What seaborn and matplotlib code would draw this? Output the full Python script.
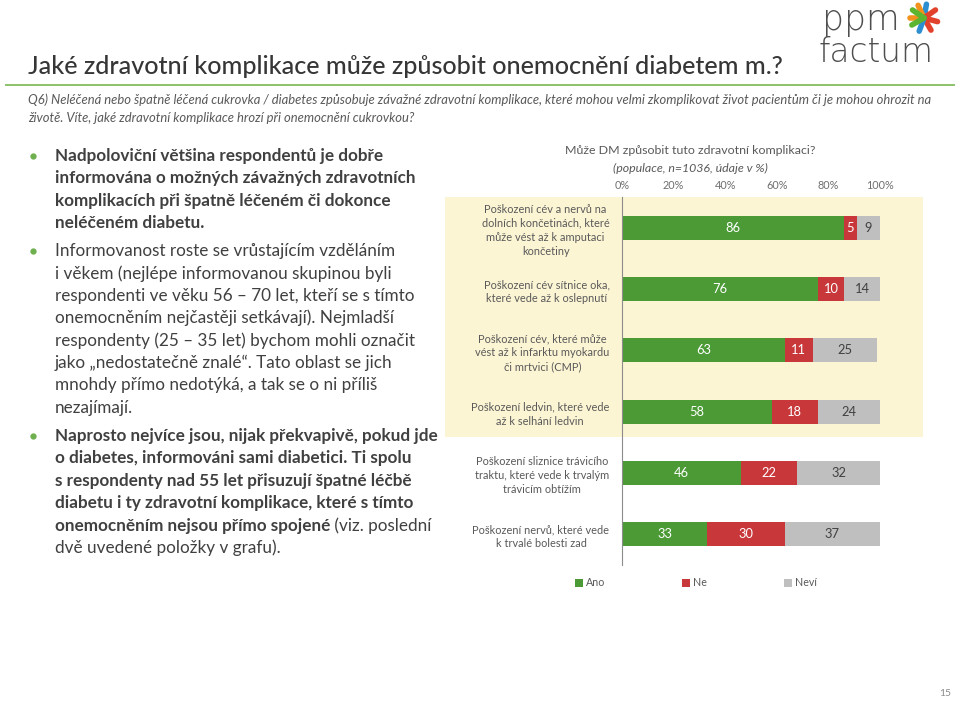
import matplotlib
matplotlib.use("Agg")
import matplotlib.pyplot as plt
from matplotlib.patches import Rectangle, Patch
import seaborn as sns
import numpy as np
import pandas as pd

# ---------------- data ----------------
categories = [
    "Poškození cév a nervů na\ndolních končetinách, které\nmůže vést až k amputaci\nkončetiny",
    "Poškození cév sítnice oka,\nkteré vede až k oslepnutí",
    "Poškození cév, které může\nvést až k infarktu myokardu\nči mrtvici (CMP)",
    "Poškození ledvin, které vede\naž k selhání ledvin",
    "Poškození sliznice trávicího\ntraktu, které vede k trvalým\ntrávicím obtížím",
    "Poškození nervů, které vede\nk trvalé bolesti zad",
]
ano = [86, 76, 63, 58, 46, 33]
ne = [5, 10, 11, 18, 22, 30]
nevi = [9, 14, 25, 24, 32, 37]
series_names = ["Ano", "Ne", "Neví"]
x_ticks = [0, 20, 40, 60, 80, 100]
x_tick_labels = ["0%", "20%", "40%", "60%", "80%", "100%"]

title = "Jaké zdravotní komplikace může způsobit onemocnění diabetem m.?"
question = ["Q6) Neléčená nebo špatně léčená cukrovka / diabetes způsobuje závažné zdravotní komplikace, které mohou velmi zkomplikovat život pacientům či je mohou ohrozit na",
            "životě. Víte, jaké zdravotní komplikace hrozí při onemocnění cukrovkou?"]
chart_title = "Může DM způsobit tuto zdravotní komplikaci?"
chart_subtitle = "(populace, n=1036, údaje v %)"

# left text: list of bullets, each bullet list of lines, each line list of (text, bold)
bullets = [
    [[("Nadpoloviční většina respondentů je dobře", True)],
     [("informována o možných závažných zdravotních", True)],
     [("komplikacích při špatně léčeném či dokonce", True)],
     [("neléčeném diabetu.", True)]],
    [[("Informovanost roste se vrůstajícím vzděláním", False)],
     [("i věkem (nejlépe informovanou skupinou byli", False)],
     [("respondenti ve věku 56 – 70 let, kteří se s tímto", False)],
     [("onemocněním nejčastěji setkávají). Nejmladší", False)],
     [("respondenty (25 – 35 let) bychom mohli označit", False)],
     [("jako „nedostatečně znalé“. Tato oblast se jich", False)],
     [("mnohdy přímo nedotýká, a tak se o ni příliš", False)],
     [("nezajímají.", False)]],
    [[("Naprosto nejvíce jsou, nijak překvapivě, pokud jde", True)],
     [("o diabetes, informováni sami diabetici. Ti spolu", True)],
     [("s respondenty nad 55 let přisuzují špatné léčbě", True)],
     [("diabetu i ty zdravotní komplikace, které s tímto", True)],
     [("onemocněním nejsou přímo spojené", True), (" (viz. poslední", False)],
     [("dvě uvedené položky v grafu).", False)]],
]
bullet_tops = [156, 251, 436]

# ---------------- style ----------------
sns.set_style("white")
plt.rcParams["font.family"] = ["Lato", "DejaVu Sans"]

GREEN = "#4b9a36"
RED = "#c8373a"
GRAY = "#bfbfbf"
TXT = "#404040"
LBL = "#595959"

W, H = 960, 701
fig = plt.figure(figsize=(W / 100, H / 100), dpi=100)
fig.patch.set_facecolor("white")

bg = fig.add_axes([0, 0, 1, 1])
bg.set_xlim(0, W)
bg.set_ylim(H, 0)
bg.axis("off")

# title + rule
bg.text(28, 66, title, fontsize=18.1, color="#363636", fontweight="medium", va="center", ha="left")
bg.plot([5, 955], [85, 85], color="#8cc26a", lw=1.4, solid_capstyle="butt")
for i, q in enumerate(question):
    bg.text(28, 100 + i * 17.5, q, fontsize=9.35, style="italic", color=LBL, va="center", ha="left")

# logo
bg.text(822, 30, "ppm", fontsize=25, color="#4f4f4f", fontweight="light",
        family="DejaVu Sans", va="baseline", ha="left")
bg.text(818, 62, "factum", fontsize=23.5, color="#4f4f4f", fontweight="light",
        family="DejaVu Sans", va="baseline", ha="left")
cx, cy, r = 924, 18, 14
for ang, col in [(80, "#2e8fd0"), (115, "#f2921d"), (180, "#f2921d"), (35, "#e2412b"),
                 (-15, "#e2412b"), (-60, "#e2412b"), (-110, "#2e8fd0"), (-150, "#5db52f"), (145, "#5db52f")]:
    a = np.deg2rad(ang)
    bg.plot([cx, cx + r * np.cos(a)], [cy, cy - r * np.sin(a)], color=col, lw=4, solid_capstyle="round")

# yellow highlight
bg.add_patch(Rectangle((445, 197), 923 - 445, 437 - 197, facecolor="#fcf5d4", edgecolor="none", zorder=0))

# left bullets
line_h = 22.4
for bl, top in zip(bullets, bullet_tops):
    bg.plot([33], [top], marker="o", markersize=3.5, color="#6db04d", zorder=3)
    for li, segs in enumerate(bl):
        y = top + li * line_h
        prev = None
        for txt, bold in segs:
            fw = "bold" if bold else "normal"
            if prev is None:
                prev = bg.text(55, y, txt, fontsize=12.35, fontweight=fw, color=TXT, va="center", ha="left", zorder=3)
            else:
                prev = bg.annotate(txt, xy=(1, 0), xycoords=prev, va="bottom", ha="left",
                                   fontsize=12.35, fontweight=fw, color=TXT, zorder=3)

# chart titles
bg.text(690, 151, chart_title, fontsize=8.9, color=LBL, va="center", ha="center")
bg.text(690, 168, chart_subtitle, fontsize=8.9, color=LBL, style="italic", va="center", ha="center")

# page number
bg.text(945, 693, "15", fontsize=7.5, color="#8c8c8c", va="center", ha="center")

# ---------------- chart ----------------
df = pd.DataFrame({"cat": categories, "Ano": ano, "Ne": ne, "Neví": nevi})
df["c3"] = df["Ano"] + df["Ne"] + df["Neví"]
df["c2"] = df["Ano"] + df["Ne"]
df["c1"] = df["Ano"]

ax = fig.add_axes([622 / W, 1 - 565 / H, (880 - 622) / W, (565 - 197) / H])
ax.patch.set_alpha(0)
for col, color in [("c3", GRAY), ("c2", RED), ("c1", GREEN)]:
    sns.barplot(data=df, x=col, y="cat", orient="h", color=color, saturation=1,
                width=0.39, ax=ax, linewidth=0)

for i, row in df.iterrows():
    ax.text(row["Ano"] / 2, i, f"{row['Ano']}", color="white", fontsize=9.3, ha="center", va="center")
    ax.text(row["Ano"] + row["Ne"] / 2, i, f"{row['Ne']}", color="white", fontsize=9.3, ha="center", va="center")
    ax.text(row["c2"] + row["Neví"] / 2, i, f"{row['Neví']}", color=TXT, fontsize=9.3, ha="center", va="center")

ax.set_xlim(0, 100)
ax.set_ylim(len(categories) - 0.5, -0.5)
ax.set_xlabel("")
ax.set_ylabel("")
ax.xaxis.tick_top()
ax.set_xticks(x_ticks)
ax.set_xticklabels(x_tick_labels)
ax.tick_params(axis="x", length=0, pad=4, labelsize=7.8, labelcolor="#6f6f6f")
ax.tick_params(axis="y", which="major", length=0, pad=9, labelsize=7.9, labelcolor=LBL)
ax.set_yticks(np.arange(-0.5, len(categories) + 0.5, 1), minor=True)
ax.tick_params(axis="y", which="minor", length=4, color="#8c8c8c", width=0.8, direction="out")
for lbl in ax.get_yticklabels():
    lbl.set_multialignment("center")
    lbl.set_linespacing(1.35)
for s in ["top", "right", "bottom"]:
    ax.spines[s].set_visible(False)
ax.spines["left"].set_color("#8c8c8c")
ax.spines["left"].set_linewidth(0.8)

handles = [Patch(facecolor=c, edgecolor="none") for c in [GREEN, RED, GRAY]]
leg = bg.legend(handles, series_names, loc="center", bbox_to_anchor=(696 / W, 1 - 583 / H),
                bbox_transform=fig.transFigure, ncol=3, frameon=False, fontsize=7.7,
                handlelength=0.75, handleheight=0.75, handletextpad=0.25, columnspacing=7.2)
for t in leg.get_texts():
    t.set_color(LBL)

fig.savefig("out.png", dpi=100)
